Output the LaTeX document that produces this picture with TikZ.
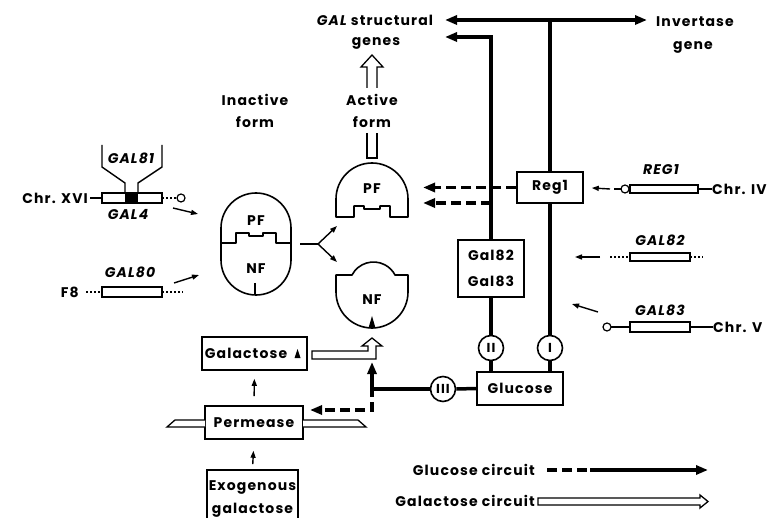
\documentclass[tikz,border=0pt]{standalone}
\usepackage{fontspec}
\setmainfont{Poppins}[LetterSpace=8]
\usetikzlibrary{arrows.meta}
\begin{document}
\begin{tikzpicture}[x=1pt,y=1pt,
  every node/.style={font=\fontsize{14}{16}\selectfont\bfseries, inner sep=0pt},
  gname/.style={font=\fontsize{14}{16}\selectfont\bfseries\itshape},
  box/.style={draw, line width=1.6pt, inner sep=0pt},
  heavy/.style={line width=3.5pt},
  glc/.style={line width=3.5pt, dash pattern=on 10pt off 5pt},
  tipb/.style={-{Triangle[length=12pt,width=9pt]}},
  gline/.style={line width=1.4pt},
  sarr/.style={line width=1.4pt, -{Triangle[length=7pt,width=5pt]}},
  dots/.style={line width=1.2pt, dash pattern=on 2pt off 2pt},
  rn/.style={draw, circle, line width=1.6pt, minimum size=25pt, inner sep=0pt, fill=white, font=\fontsize{13}{14}\selectfont\bfseries},
  outl/.style={line width=1.6pt, line join=round},
  hollow/.style={line width=1.3pt, line join=miter, fill=white},
  genebar/.style={draw, line width=1.3pt, fill=white},
  knob/.style={draw, line width=1.2pt, fill=white}
]
\useasboundingbox (0,0) rectangle (773,-518);

% ---------- top texts ----------
\node (galstr) at (375,-20) {{\itshape GAL} structural};
\node (genes) at (376,-43) {genes};
\node (invert) at (695,-22) {Invertase};
\node (invgene) at (693,-47) {gene};
\node (inact) at (255,-100) {Inactive};
\node (inactf) at (255,-122) {form};
\node (act) at (372,-100) {Active};
\node (actf) at (372,-122) {form};

% ---------- boxes ----------
\node[box, minimum width=66pt, minimum height=31pt] (reg) at (550,-187.5) {Reg1};
\node[box, minimum width=66pt, minimum height=57pt, align=center,
      font=\fontsize{14}{26}\selectfont\bfseries] (g8283) at (491,-268.5) {Gal82\\Gal83};
\node[box, minimum width=86pt, minimum height=33pt] (glucose) at (520,-388.5) {Glucose};
\node[rn] (c2) at (491,-348) {II};
\node[rn] (c1) at (550,-348) {I};
\node[rn] (c3) at (443,-389) {III};

\node[box, minimum width=105pt, minimum height=33pt] (galbox) at (254.5,-353.5) {};
\node (galtxt) at (246,-353.5) {Galactose};
\fill (294.5,-358) -- (297.5,-349) -- (300.5,-358) -- cycle;
\node[box, minimum width=98pt, minimum height=33pt] (perm) at (254,-422.5) {Permease};
\node[box, minimum width=91pt, minimum height=58pt, align=center,
      font=\fontsize{14}{23}\selectfont\bfseries] (exo) at (252.5,-499) {Exogenous\\galactose};

% ---------- heavy glucose-circuit lines ----------
\coordinate (tipL1) at (445,-20);
\coordinate (tipR) at (647,-20);
\coordinate (tipL2) at (445,-37);
\coordinate (topj) at (550,-20);
\draw[heavy, {Triangle[length=12pt,width=9pt]}-{Triangle[length=12pt,width=9pt]}] (tipL1) -- (tipR);
\draw[heavy] (topj) -- (reg.north);
\draw[heavy] (reg.south) -- (c1.north);
\draw[heavy] (c1.south) -- (c1.south |- glucose.north);
\draw[heavy, tipb, line join=miter] (g8283.north) |- (tipL2);
\draw[heavy] (g8283.south) -- (c2.north);
\draw[heavy] (c2.south) -- (c2.south |- glucose.north);
\draw[heavy] (c3.east) -- (glucose.west);
\coordinate (junc) at (372,-389);
\coordinate (uptip) at (372,-362);
\coordinate (jdown) at (372,-410);
\coordinate (permtip) at (310,-410);
\draw[heavy] (c3.west) -- (junc);
\draw[heavy, tipb] ([yshift=-1.75pt]junc) -- (uptip);
\draw[glc, tipb, line join=miter] ([yshift=1.75pt]junc) -- (jdown) -- (permtip);
\coordinate (pf1) at (423,-187.5);
\coordinate (pf2) at (423,-203);
\coordinate (l2) at (491,-203);
\draw[glc, tipb] (reg.west) -- (pf1);
\draw[glc, tipb] (l2) -- (pf2);

% ---------- inactive complex ----------
\draw[outl] (221,-228) arc (180:0:35) -- (291,-260) arc (0:-180:35) -- cycle;
\draw[outl] (221,-243) -- (236,-243) -- (236,-233) -- (249,-233) -- (249,-236) -- (263,-236)
  -- (263,-233) -- (276,-233) -- (276,-243) -- (291,-243);
\draw[outl] (255,-283) -- (255,-295);
\node (pfi) at (256,-221) {PF};
\node (nfi) at (256,-269) {NF};

% fork
\coordinate (forkA) at (300,-244);
\coordinate (fork) at (318,-244);
\coordinate (forkU) at (337,-226);
\coordinate (forkD) at (337,-262);
\draw[gline] (forkA) -- (fork);
\draw[sarr] (fork) -- (forkU);
\draw[sarr] (fork) -- (forkD);

% ---------- active PF ----------
\draw[outl] (336,-217) -- (336,-199) arc (180:0:36) -- (408,-217) -- (390,-217) -- (390,-206)
  -- (380,-206) -- (380,-209) -- (364,-209) -- (364,-206) -- (354,-206) -- (354,-217) -- cycle;
\node (pfa) at (372,-189) {PF};
% stem and hollow arrow to genes
\draw[hollow] (367,-133) -- (367,-158) -- (377,-158) -- (377,-133);
\draw[hollow] (367,-88) -- (367,-67) -- (361,-67) -- (372,-55) -- (383,-67) -- (377,-67) -- (377,-88);

% ---------- active NF ----------
\draw[outl] (336,-275) -- (352,-275) arc (152.3:27.7:24.3) -- (408,-275) -- (408,-292)
  arc (0:-180:36) -- cycle;
\fill (368.5,-328) -- (372,-316) -- (375.5,-328) -- cycle;
\node (nfa) at (372,-300) {NF};

% ---------- galactose circuit hollow arrows ----------
\draw[hollow] (312,-351) -- (368,-351) -- (368,-346) -- (362,-346) -- (372,-338) -- (382,-346)
  -- (376,-346) -- (376,-359) -- (312,-359) -- cycle;
\draw[hollow] (303,-420) -- (358,-420) -- (366,-427) -- (303,-427);
\draw[hollow] (205,-420) -- (175,-420) -- (167,-427) -- (205,-427);

\draw[sarr, shorten <=9pt, shorten >=8pt] (perm.north) -- (galbox.south);
\draw[sarr, shorten <=5pt, shorten >=11pt] (exo.north) -- (perm.south);

% ---------- left genes ----------
\node (chr16) [anchor=east] at (88,-198) {Chr. XVI};
\node[gname] (gal81) at (131,-158) {GAL81};
\node[gname] (gal4) at (128,-214) {GAL4};
\draw[gline] (chr16.east) ++(2,0) -- (102,-198);
\draw[genebar] (102,-193) rectangle (162,-203);
\fill (125,-193) rectangle (138,-203);
\draw[gline] (102,-145) -- (102,-167) -- (125,-183) -- (125,-193);
\draw[gline] (162,-145) -- (162,-167) -- (138,-183) -- (138,-193);
\draw[dots] (162,-198) -- (177,-198);
\draw[knob] (181,-198) circle (4);
\coordinate (a4s) at (173,-208);
\coordinate (a4e) at (198,-214);
\draw[sarr] (a4s) -- (a4e);

\node (f8) [anchor=east] at (79,-292) {F8};
\node[gname] (gal80) at (130,-272) {GAL80};
\draw[dots] (86,-292) -- (102,-292);
\draw[genebar] (102,-287) rectangle (162,-297);
\draw[dots] (162,-292) -- (183,-292);
\coordinate (a80s) at (174,-283);
\coordinate (a80e) at (199,-275);
\draw[sarr] (a80s) -- (a80e);

% ---------- right genes ----------
\node[gname] (reg1) at (661,-170) {REG1};
\node (chr4) [anchor=west] at (712,-189) {Chr. IV};
\draw[gline] (614,-189) -- (621,-189);
\draw[gline] (698,-189) -- (chr4.west);
\draw[genebar] (630,-185) rectangle (698,-193);
\draw[knob] (625,-189) circle (4);
\coordinate (rs) at (610,-189);
\draw[sarr, shorten >=8pt] (rs) -- (reg.east);

\node[gname] (gal82) at (660,-240) {GAL82};
\draw[dots] (610,-257) -- (630,-257);
\draw[genebar] (630,-253) rectangle (690,-261);
\draw[dots] (690,-257) -- (703,-257);
\coordinate (a82s) at (600,-257);
\coordinate (a82e) at (575,-257);
\draw[sarr] (a82s) -- (a82e);

\node[gname] (gal83) at (660,-310) {GAL83};
\node (chr5) [anchor=west] at (713,-327) {Chr. V};
\draw[gline] (611,-327) -- (630,-327);
\draw[genebar] (630,-322) rectangle (690,-332);
\draw[gline] (690,-327) -- (chr5.west);
\draw[knob] (607,-327) circle (4);
\coordinate (a83s) at (598,-312);
\coordinate (a83e) at (572,-304);
\draw[sarr] (a83s) -- (a83e);

% ---------- legend ----------
\node (lglc) [anchor=east] at (535,-470) {Glucose circuit};
\coordinate (lg1) at (547,-470);
\coordinate (lg2) at (590,-470);
\coordinate (lg3) at (708,-470);
\draw[glc] (lg1) -- (lg2);
\draw[heavy, tipb] (lg2) -- (lg3);
\node (lgal) [anchor=east] at (535,-501) {Galactose circuit};
\draw[hollow] (538,-498) -- (700,-498) -- (700,-495) -- (708,-501.5) -- (700,-508) -- (700,-505) -- (538,-505) -- cycle;
\end{tikzpicture}
\end{document}
